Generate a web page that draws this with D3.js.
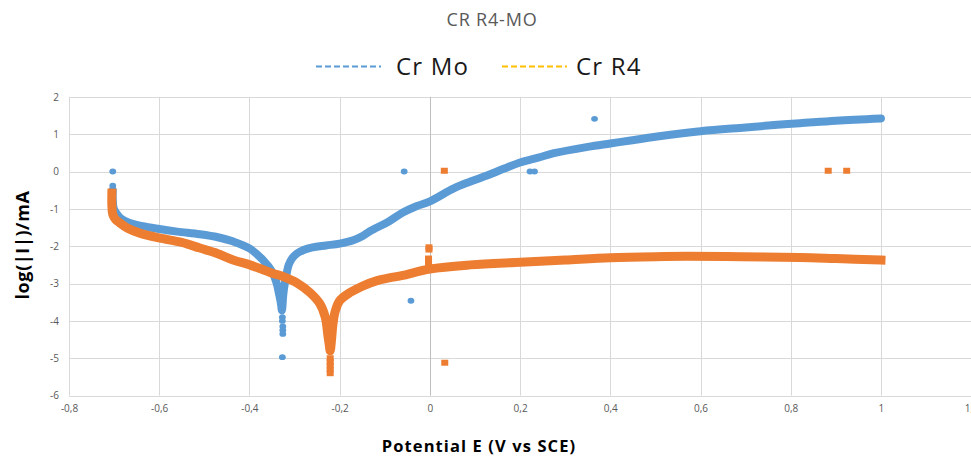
<!DOCTYPE html>
<html><head><meta charset="utf-8">
<script src="https://cdn.jsdelivr.net/npm/d3@7"></script>
<style>body{margin:0;background:#fff}svg{display:block}</style>
</head><body><svg id="c" width="971" height="459"></svg>
<script>
const chartTitle = "CR R4-MO";
const seriesNames = ["Cr Mo", "Cr R4"];
const xTicks = [-0.8,-0.6,-0.4,-0.2,0,0.2,0.4,0.6,0.8,1,1.2];
const yTicks = [2,1,0,-1,-2,-3,-4,-5,-6];

// Cr Mo main curve (E in V, log|I|)
const crMoE = [-0.703,-0.703,-0.701,-0.695,-0.686,-0.67,-0.65,-0.62,-0.60,-0.56,-0.51,-0.47,-0.437,-0.40,-0.37,-0.35,-0.34,-0.334,-0.33,-0.328,
  -0.325,-0.321,-0.317,-0.313,-0.305,-0.295,-0.28,-0.26,-0.23,-0.2,-0.17,-0.148,-0.133,-0.117,-0.09,-0.06,-0.03,0,0.053,0.09,0.128,0.165,0.2,0.24,0.275,0.35,0.4,0.445,0.5,0.6,0.7,0.77,0.82,0.9,1.0];
const crMoLog = [-0.5,-0.75,-0.98,-1.12,-1.25,-1.36,-1.43,-1.50,-1.54,-1.61,-1.68,-1.76,-1.87,-2.06,-2.37,-2.68,-2.98,-3.3,-3.55,-3.72,
  -3.3,-2.95,-2.7,-2.5,-2.32,-2.2,-2.1,-2.03,-1.98,-1.93,-1.84,-1.72,-1.6,-1.5,-1.33,-1.1,-0.93,-0.8,-0.45,-0.27,-0.1,0.08,0.24,0.37,0.49,0.66,0.75,0.83,0.93,1.08,1.18,1.25,1.29,1.36,1.42];
// Cr Mo isolated points
const crMoOutE = [-0.703,-0.703,-0.057,0.222,0.232,0.365,-0.042,-0.327,-0.327,-0.326,-0.326,-0.326,-0.327];
const crMoOutLog = [0,-0.38,0,0,0,1.41,-3.46,-3.9,-4.0,-4.15,-4.25,-4.35,-4.97];

// Cr R4 main curve
const crR4E = [-0.705,-0.705,-0.703,-0.697,-0.687,-0.67,-0.643,-0.6,-0.55,-0.51,-0.47,-0.436,-0.399,-0.37,-0.348,-0.326,-0.295,-0.266,-0.244,-0.232,-0.226,-0.223,-0.221,
  -0.218,-0.215,-0.21,-0.2,-0.177,-0.148,-0.117,-0.09,-0.06,0,0.09,0.2,0.3,0.4,0.5,0.57,0.69,0.82,0.9,1.0];
const crR4Log = [-0.58,-0.9,-1.15,-1.28,-1.38,-1.52,-1.65,-1.78,-1.9,-2.05,-2.2,-2.37,-2.50,-2.63,-2.73,-2.81,-2.98,-3.24,-3.54,-3.9,-4.4,-4.65,-4.8,
  -4.5,-4.1,-3.75,-3.46,-3.24,-3.06,-2.92,-2.85,-2.78,-2.61,-2.5,-2.43,-2.37,-2.31,-2.28,-2.27,-2.28,-2.3,-2.33,-2.37];
// Cr R4 isolated points
const crR4OutE = [0.032,0.883,0.924,0.033,-0.002,-0.002,-0.003,-0.003,-0.003,-0.221,-0.221,-0.221,-0.221,-0.221];
const crR4OutLog = [0.02,0.02,0.02,-5.12,-2.03,-2.09,-2.33,-2.4,-2.48,-5.0,-5.1,-5.2,-5.3,-5.4];

const blue = "#5B9BD5", orange = "#ED7D31", yellow = "#FFC000";
const svg = d3.select("#c");
const x = d3.scaleLinear().domain([-0.8,1.2]).range([69,971.2]);
const y = d3.scaleLinear().domain([2,-6]).range([96.8,395.6]);
const fmt = d => String(d).replace(".", ",");
const font = "'Open Sans', 'Noto Sans', sans-serif";

// gridlines
const g = svg.append("g");
g.selectAll(".hg").data(yTicks).join("line")
  .attr("x1", x(-0.8)).attr("x2", 971).attr("y1", d => Math.round(y(d))+0.5).attr("y2", d => Math.round(y(d))+0.5)
  .attr("stroke", "#d9d9d9").attr("stroke-width", 1);
g.selectAll(".vg").data(xTicks.filter(d => d !== 0)).join("line")
  .attr("y1", y(2)).attr("y2", y(-6)).attr("x1", d => Math.round(x(d))+0.5).attr("x2", d => Math.round(x(d))+0.5)
  .attr("stroke", "#d9d9d9").attr("stroke-width", 1);
g.append("line").attr("y1", y(2)).attr("y2", y(-6)).attr("x1", Math.round(x(0))+0.5).attr("x2", Math.round(x(0))+0.5)
  .attr("stroke", "#bfbfbf").attr("stroke-width", 1);

// axes tick labels
const yAxis = d3.axisLeft(y).tickValues(yTicks).tickFormat(fmt).tickSize(0).tickPadding(10);
const ya = svg.append("g").attr("transform", `translate(${x(-0.8)},0)`).call(yAxis);
ya.select(".domain").remove();
ya.selectAll("text").attr("fill", "#595959").style("font-family", font).style("font-size", "10px");
const xAxis = d3.axisBottom(x).tickValues(xTicks).tickFormat(fmt).tickSize(0).tickPadding(9);
const xa = svg.append("g").attr("transform", `translate(0,${y(-6)})`).call(xAxis);
xa.select(".domain").remove();
xa.selectAll("text").attr("fill", "#595959").style("font-family", font).style("font-size", "10px");

// series
function drawSeries(E, L, OE, OL, color, width, shape) {
  const pts = E.map((e,i) => [e, L[i]]);
  const line = d3.line().x(d => x(d[0])).y(d => y(d[1])).curve(d3.curveCatmullRom.alpha(0.5));
  svg.append("path").datum(pts).attr("d", line).attr("fill", "none").attr("stroke", color)
    .attr("stroke-width", width).attr("stroke-linejoin", "round").attr("stroke-linecap", shape === "circle" ? "round" : "square");
  const outs = OE.map((e,i) => [e, OL[i]]);
  if (shape === "circle") {
    svg.append("g").selectAll("ellipse").data(outs).join("ellipse")
      .attr("cx", d => x(d[0])).attr("cy", d => y(d[1])).attr("rx", 3.4).attr("ry", 2.9).attr("fill", color);
  } else {
    svg.append("g").selectAll("rect").data(outs).join("rect")
      .attr("x", d => x(d[0]) - 3.5).attr("y", d => y(d[1]) - 3).attr("width", 7).attr("height", 6).attr("fill", color);
  }
}
drawSeries(crMoE, crMoLog, crMoOutE, crMoOutLog, blue, 8, "circle");
drawSeries(crR4E, crR4Log, crR4OutE, crR4OutLog, orange, 9, "square");

// title
svg.append("text").attr("x", 492).attr("y", 26).attr("text-anchor", "middle")
  .style("font-family", font).style("font-size", "18px").style("letter-spacing", "0.8px").attr("fill", "#595959").text(chartTitle);

// legend
const legend = [{name: seriesNames[0], color: blue, x: 316, tx: 396}, {name: seriesNames[1], color: yellow, x: 502, tx: 576}];
legend.forEach(l => {
  svg.append("line").attr("x1", l.x).attr("x2", l.x + 65).attr("y1", 66.5).attr("y2", 66.5)
    .attr("stroke", l.color).attr("stroke-width", 2).attr("stroke-dasharray", "6,3");
  svg.append("text").attr("x", l.tx).attr("y", 75).style("font-family", font).style("font-size", "24px")
    .style("letter-spacing", "1.2px").attr("fill", "#1a1a1a").text(l.name);
});

// axis titles
svg.append("text").attr("transform", "translate(29,245) rotate(-90)").attr("text-anchor", "middle")
  .style("font-family", font).style("font-size", "18px").style("font-weight", "bold").style("letter-spacing", "0.6px")
  .attr("fill", "#000").text("log(|I|)/mA");
svg.append("text").attr("x", 479).attr("y", 452).attr("text-anchor", "middle")
  .style("font-family", font).style("font-size", "16.5px").style("font-weight", "bold").style("letter-spacing", "1.1px")
  .attr("fill", "#000").text("Potential E (V vs SCE)");
</script></body></html>
